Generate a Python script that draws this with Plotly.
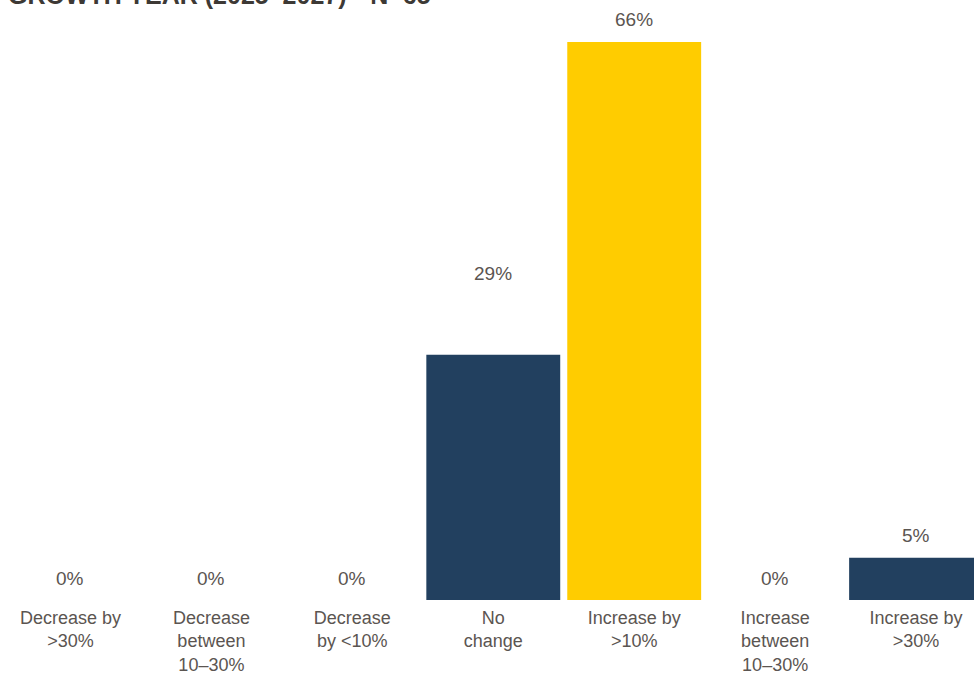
import plotly.graph_objects as go

categories = [
    "Decrease by<br>>30%",
    "Decrease<br>between<br>10–30%",
    "Decrease<br>by <10%",
    "No<br>change",
    "Increase by<br>>10%",
    "Increase<br>between<br>10–30%",
    "Increase by<br>>30%",
]
values = [0, 0, 0, 29, 66, 0, 5]
labels = ["0%", "0%", "0%", "29%", "66%", "0%", "5%"]
label_lift = [22, 22, 22, 81, 22, 22, 22]

NAVY = "#22405f"
YELLOW = "#ffcc00"
TEXT = "#5b5551"
FONT = "Liberation Sans, Arial, sans-serif"
bar_colors = [NAVY, NAVY, NAVY, NAVY, YELLOW, NAVY, NAVY]

x_idx = list(range(len(categories)))

fig = go.Figure(
    go.Bar(
        x=x_idx,
        y=values,
        marker=dict(color=bar_colors, line=dict(width=0)),
        hoverinfo="skip",
    )
)

for i, (v, lab, lift) in enumerate(zip(values, labels, label_lift)):
    fig.add_annotation(
        x=i, y=v, xref="x", yref="y",
        text=lab, showarrow=False,
        yanchor="middle", yshift=lift,
        font=dict(size=19, color=TEXT, family=FONT),
    )

fig.add_annotation(
    x=0, y=1, xref="paper", yref="paper",
    xanchor="left", yanchor="middle", xshift=6, yshift=25,
    text="<b>GROWTH YEAR (2025–2027)*  N=65</b>",
    showarrow=False,
    font=dict(size=25, color="#3d3935", family=FONT),
)

fig.update_layout(
    width=974, height=679,
    margin=dict(l=0, r=0, t=20, b=79),
    paper_bgcolor="white", plot_bgcolor="white",
    bargap=0.05,
    showlegend=False,
    xaxis=dict(
        range=[-0.5, 6.411],
        tickmode="array", tickvals=x_idx, ticktext=categories,
        showgrid=False, zeroline=False, showline=False, ticks="",
        ticklabelstandoff=5,
        automargin=False,
        tickfont=dict(size=18, color=TEXT, family=FONT),
        fixedrange=True,
    ),
    yaxis=dict(
        range=[0, 68.6],
        visible=False, showgrid=False, zeroline=False,
        automargin=False,
        fixedrange=True,
    ),
)

fig.write_html("out.html", config={"displayModeBar": False})
